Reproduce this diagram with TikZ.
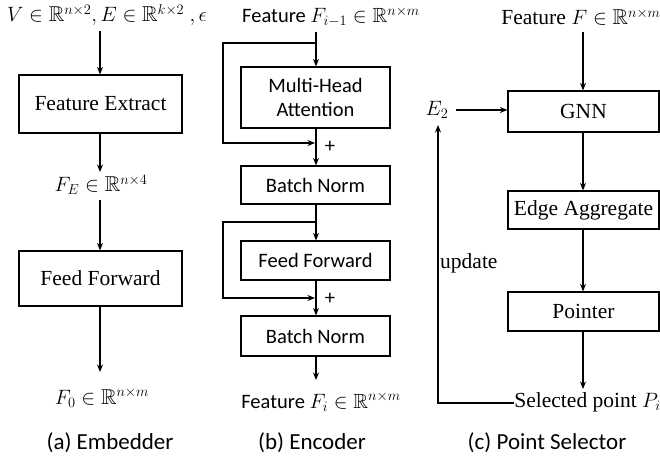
\documentclass[tikz,border=0pt]{standalone}
\usepackage{amssymb}
\usepackage{fontspec}
\setmainfont{Liberation Serif}
\newfontfamily\calfont{Carlito}
\usetikzlibrary{arrows.meta,calc}
\begin{document}
\begin{tikzpicture}[x=1pt,y=-1pt,
  ln/.style={line width=1.2pt,draw=black},
  arr/.style={ln,-{Stealth[length=7.5pt,width=6pt]}},
  tnr/.style={font=\fontsize{21.5}{24}\selectfont},
  cal/.style={font=\calfont\fontsize{20.5}{24}\selectfont},
  captxt/.style={font=\calfont\fontsize{23}{26}\selectfont},
  boxa/.style={ln,tnr,minimum width=163pt,inner sep=0pt},
  boxb/.style={ln,cal,minimum width=149pt,inner sep=0pt,align=center},
  boxc/.style={ln,tnr,minimum width=151pt,inner sep=0pt},
  lbl/.style={inner sep=0pt}]
\useasboundingbox (0,0) rectangle (660,462);

% ---------- (a) Embedder ----------
\node[lbl,tnr] (ain) at (107,15) {$V\in\mathbb{R}^{n\times2}, E\in\mathbb{R}^{k\times2}\ ,\epsilon$};
\node[boxa,minimum height=58pt] (fe) at (100.5,104) {Feature Extract};
\node[lbl,tnr] (fEt) at (101,185) {$F_E\in\mathbb{R}^{n\times4}$};
\node[boxa,minimum height=55pt] (ffa) at (100.5,278.5) {Feed Forward};
\node[lbl,tnr] (f0) at (102,398) {$F_0\in\mathbb{R}^{n\times m}$};
\node[lbl,captxt] (capa) at (110,443) {(a) Embedder};
\coordinate (a0) at (100,31);
\coordinate (a1) at (100,172);
\coordinate (a2) at (100,200);
\coordinate (a3) at (100,372);
\draw[arr] (a0) -- (fe.north -| a0);
\draw[arr] (fe.south -| a1) -- (a1);
\draw[arr] (a2) -- (ffa.north -| a2);
\draw[arr] (ffa.south -| a3) -- (a3);

% ---------- (b) Encoder ----------
\node[lbl,cal] (bin) at (331,17) {Feature $F_{i-1}\in\mathbb{R}^{n\times m}$};
\node[boxb,minimum height=61pt] (mha) at (315.5,97.5) {Multi-Head\\Attention};
\node[boxb,minimum height=38pt] (bn1) at (315.5,185) {Batch Norm};
\node[boxb,minimum height=39pt] (ffb) at (315.5,260.5) {Feed Forward};
\node[boxb,minimum height=40pt] (bn2) at (315.5,336) {Batch Norm};
\node[lbl,cal] (bout) at (321,402) {Feature $F_i\in\mathbb{R}^{n\times m}$};
\node[lbl,cal] (p1) at (330,147) {+};
\node[lbl,cal] (p2) at (330,299) {+};
\node[lbl,captxt] (capb) at (312,443) {(b) Encoder};
\coordinate (b0) at (316,32);
\coordinate (j1) at (316,43);
\coordinate (l1a) at (223,43);
\coordinate (l1b) at (223,143);
\coordinate (j1b) at (315,143);
\coordinate (j2) at (316,222);
\coordinate (l2a) at (223,222);
\coordinate (l2b) at (223,298);
\coordinate (j2b) at (315,298);
\coordinate (b9) at (316,380);
\draw[arr] (b0) -- (mha.north -| b0);
\draw[arr] (j1) -- (l1a) -- (l1b) -- (j1b);
\draw[arr] (mha.south -| b0) -- (bn1.north -| b0);
\draw[arr] (bn1.south -| b0) -- (ffb.north -| b0);
\draw[arr] (j2) -- (l2a) -- (l2b) -- (j2b);
\draw[arr] (ffb.south -| b0) -- (bn2.north -| b0);
\draw[arr] (bn2.south -| b0) -- (b9);

% ---------- (c) Point Selector ----------
\node[lbl,tnr] (cin) at (581,17) {Feature $F\in\mathbb{R}^{n\times m}$};
\node[boxc,minimum height=41pt] (gnn) at (583.5,111.5) {GNN};
\node[boxc,minimum height=38pt] (ea) at (583.5,210) {Edge Aggregate};
\node[boxc,minimum height=39pt] (ptr) at (583.5,311.5) {Pointer};
\node[lbl,tnr] (sel) at (587.5,402) {Selected point $P_i$};
\node[lbl,tnr] (e2) at (437,110) {$E_2$};
\node[lbl,tnr,anchor=west] (upd) at (440,263) {update};
\node[lbl,captxt] (capc) at (547,443) {(c) Point Selector};
\coordinate (c0) at (583,32);
\coordinate (c9) at (583,389);
\coordinate (e2r) at (456,110);
\coordinate (lc1) at (438,403);
\coordinate (lc2) at (438,125);
\draw[arr] (c0) -- (gnn.north -| c0);
\draw[arr] (e2r) -- (gnn.west |- e2r);
\draw[arr] (gnn.south -| c0) -- (ea.north -| c0);
\draw[arr] (ea.south -| c0) -- (ptr.north -| c0);
\draw[arr] (ptr.south -| c0) -- (c9);
\draw[arr] (sel.west |- lc1) -- (lc1) -- (lc2);
\end{tikzpicture}
\end{document}
